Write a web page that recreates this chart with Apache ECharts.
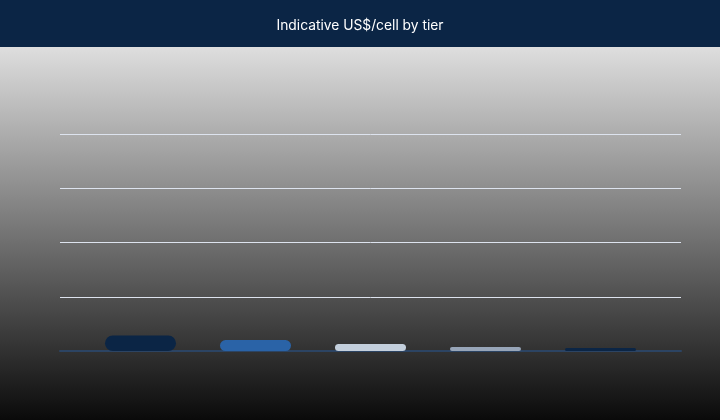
<!DOCTYPE html>
<html>
<head>
<meta charset="utf-8">
<script src="https://cdn.jsdelivr.net/npm/echarts@6/dist/echarts.min.js"></script>
<style>
html,body{margin:0;padding:0;width:720px;height:420px;overflow:hidden;}
#chart{width:720px;height:420px;}
</style>
</head>
<body>
<div id="chart"></div>
<script>
const titleText = 'Indicative US$/cell by tier';
const tiers = ['Tier 1', 'Tier 2', 'Tier 3', 'Tier 4', 'Tier 5'];
const tierPositions = [1, 2, 3, 4, 5];
const costPerCell = [1.43, 1.01, 0.65, 0.37, 0.28];
const yTicks = [0, 5, 10, 15, 20];

const palette = ['#0b2545', '#2a63a7', '#c3cfdc', '#97a5b8', '#0b2545'];

const chart = echarts.init(document.getElementById('chart'), null, {renderer: 'canvas'});

const option = {
  animation: false,
  backgroundColor: new echarts.graphic.LinearGradient(0, 0, 0, 1, [
    {offset: 0, color: '#e2e2e2'},
    {offset: 0.112, color: '#dedede'},
    {offset: 1, color: '#0a0a0a'}
  ]),
  graphic: [{
    type: 'rect',
    left: 0, top: 0, z: 0,
    shape: {width: 720, height: 47},
    style: {fill: '#0b2545'}
  }],
  title: {
    text: titleText,
    left: 'center',
    top: 14,
    z: 10,
    textStyle: {color: '#ffffff', fontSize: 13.8, fontWeight: 'normal', fontFamily: 'Inter'}
  },
  grid: {left: 60, right: 39, top: 134, bottom: 69},
  xAxis: {
    type: 'value',
    min: 0.3,
    max: 5.7,
    axisLine: {show: true, onZero: false, lineStyle: {color: '#2c4463', width: 2}},
    axisTick: {show: false},
    axisLabel: {show: false},
    splitLine: {show: false}
  },
  yAxis: {
    type: 'value',
    min: yTicks[0],
    max: yTicks[yTicks.length - 1],
    interval: yTicks[1] - yTicks[0],
    axisLine: {show: false},
    axisTick: {show: false},
    axisLabel: {show: false},
    splitLine: {show: true, lineStyle: {color: '#dde3ee', width: 1}}
  },
  series: [{
    type: 'bar',
    barWidth: 71,
    z: 3,
    data: tiers.map((t, i) => ({
      name: t,
      value: [tierPositions[i], costPerCell[i]],
      itemStyle: {color: palette[i], borderRadius: 8}
    }))
  }]
};
chart.setOption(option);
</script>
</body>
</html>
